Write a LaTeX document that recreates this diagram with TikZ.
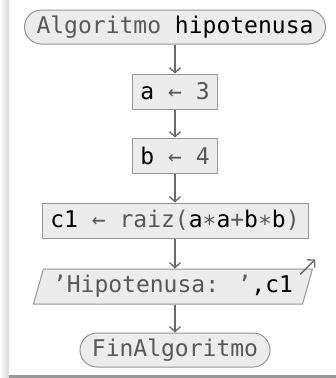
\documentclass[tikz,border=0pt]{standalone}
\usepackage{fontspec}
\setmainfont{DejaVu Sans Mono}
\usepackage{xcolor}
\usepackage{tikz}
\usetikzlibrary{positioning,shapes.geometric,arrows.meta}
\definecolor{kwgray}{RGB}{88,88,88}
\definecolor{boxfill}{RGB}{236,236,236}
\definecolor{boxline}{RGB}{150,150,150}
\definecolor{flowline}{RGB}{105,105,105}
\newcommand{\kw}[1]{\textcolor{kwgray}{#1}}
\tikzset{base node/.style={fill=boxfill,draw=boxline,line width=1pt,inner sep=0pt,
    font=\fontsize{23}{24}\selectfont},
  term node/.style={base node,rectangle,rounded corners=17pt,minimum height=34pt},
  proc node/.style={base node,rectangle,minimum height=35pt},
  io node/.style={base node,trapezium,trapezium left angle=66,trapezium right angle=114,
    trapezium stretches body,minimum height=35pt},
  flow/.style={draw=flowline,line width=1.3pt,-{Straight Barb[length=5pt,width=11pt]}},}

\begin{document}
\begin{tikzpicture}[x=1pt,y=1pt]
    \useasboundingbox (0,0) rectangle (336,-378);
    % page edge
    \shade[left color=white,right color=black!16] (0,0) rectangle (9,-378);
    \fill[black!40] (9,-375) rectangle (336,-378);
    \fill[white] (9,0) rectangle (336,-375);

    \node[term node,minimum width=301pt] (start) at (175,-27) {\kw{Algoritmo} hipotenusa};
    \node[proc node,minimum width=85pt] (a) [below = 29pt of start] {a \kw{← 3}};
    \node[proc node,minimum width=85pt] (b) [below = 28pt of a] {b \kw{← 4}};
    \node[proc node,minimum width=266pt] (c1) [below = 29pt of b] {c1 \kw{← raiz(}a\kw{∗}a\kw{+}b\kw{∗}b\kw{)}};
    \node[io node,minimum width=279pt] (out) [below = 30pt of c1, xshift=-2pt] {\kw{'Hipotenusa: '},c1};
    \node[term node,minimum width=190pt] (end) [below = 28pt of out, xshift=2pt] {\kw{FinAlgoritmo}};
    \coordinate (outtip) at ([xshift=2pt,yshift=9pt]out.top right corner);

    \path[flow] (start) -- (a);
    \path[flow] (a) -- (b);
    \path[flow] (b) -- (c1);
    \path[flow] (c1.south) -- (c1.south |- out.north);
    \path[flow] (out.south -| end.north) -- (end.north);
    \path[flow] ([xshift=-13pt,yshift=-6pt]out.top right corner) -- (outtip);
\end{tikzpicture}
\end{document}
